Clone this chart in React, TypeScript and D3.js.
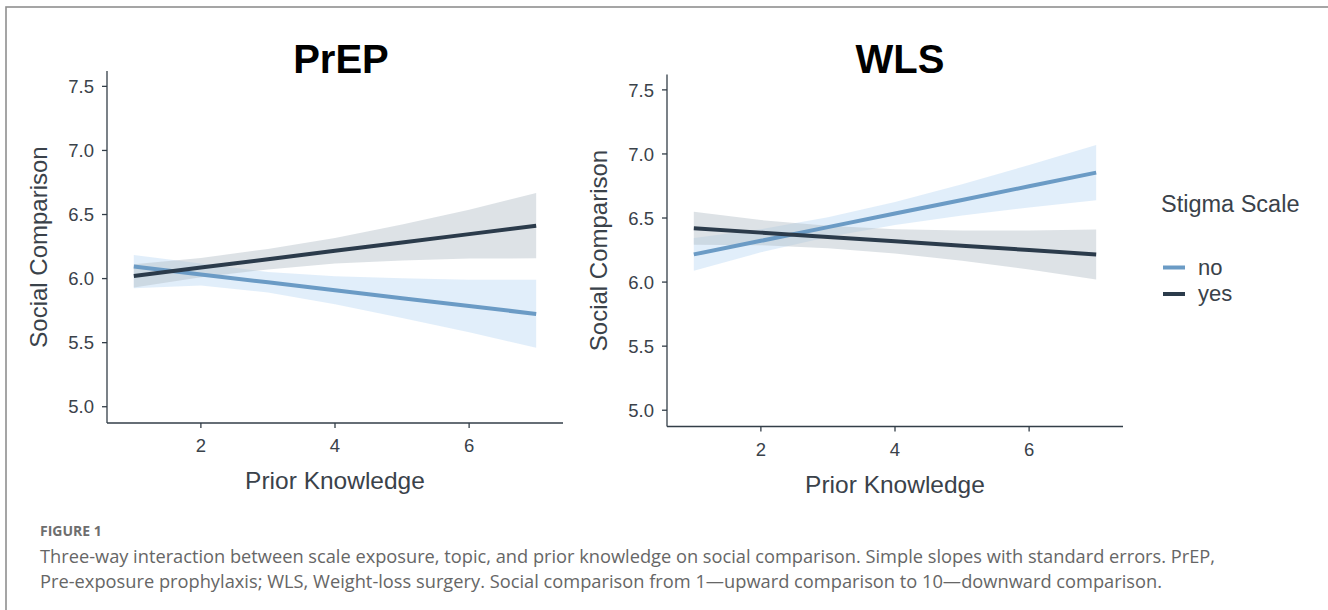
import * as d3 from "d3";

const knowledge = [1, 2, 3, 4, 5, 6, 7];

// PrEP panel
const prepNoFit = [6.094, 6.032, 5.971, 5.909, 5.847, 5.786, 5.724];
const prepNoHigh = [6.185, 6.117, 6.051, 6.019, 6.002, 5.991, 5.99];
const prepNoLow = [5.925, 5.947, 5.891, 5.799, 5.692, 5.581, 5.46];
const prepYesFit = [6.021, 6.086, 6.151, 6.217, 6.282, 6.347, 6.412];
const prepYesHigh = [6.111, 6.161, 6.231, 6.317, 6.422, 6.537, 6.668];
const prepYesLow = [5.931, 6.011, 6.071, 6.117, 6.142, 6.157, 6.158];

// WLS panel
const wlsNoFit = [6.216, 6.322, 6.429, 6.535, 6.641, 6.748, 6.854];
const wlsNoHigh = [6.344, 6.412, 6.506, 6.625, 6.763, 6.913, 7.069];
const wlsNoLow = [6.088, 6.232, 6.352, 6.445, 6.519, 6.583, 6.639];
const wlsYesFit = [6.42, 6.386, 6.352, 6.318, 6.284, 6.25, 6.216];
const wlsYesHigh = [6.548, 6.484, 6.44, 6.413, 6.402, 6.402, 6.411];
const wlsYesLow = [6.292, 6.288, 6.264, 6.223, 6.166, 6.098, 6.021];

const xTicks = [2, 4, 6];
const yTicks = [5.0, 5.5, 6.0, 6.5, 7.0, 7.5];
const groups = ["no", "yes"];

const lineColor: Record<string, string> = { no: "#6b9bc5", yes: "#2b3b4b" };
const ribbonColor: Record<string, string> = { no: "#bcd9f4", yes: "#b3bec7" };

const panels = [
  {
    title: "PrEP",
    left: 107,
    top: 71,
    titleX: 341,
    series: {
      no: { fit: prepNoFit, low: prepNoLow, high: prepNoHigh },
      yes: { fit: prepYesFit, low: prepYesLow, high: prepYesHigh },
    },
  },
  {
    title: "WLS",
    left: 667,
    top: 74.5,
    titleX: 900,
    series: {
      no: { fit: wlsNoFit, low: wlsNoLow, high: wlsNoHigh },
      yes: { fit: wlsYesFit, low: wlsYesLow, high: wlsYesHigh },
    },
  },
];

const width = 1328;
const height = 610;
const plotW = 456;
const plotH = 352;
const axisColor = "#333e48";
const textColor = "#3a424a";
const font = "'Liberation Sans', Arial, sans-serif";

const xScale = d3.scaleLinear().domain([0.6, 7.4]).range([0, plotW]);
const yScale = d3.scaleLinear().domain([4.873, 7.62]).range([plotH, 0]);

function Panel({ p }: { p: (typeof panels)[number] }) {
  const line = d3
    .line<number>()
    .x((_, i) => xScale(knowledge[i]))
    .y((d) => yScale(d));

  return (
    <g>
      <text
        x={p.titleX}
        y={73}
        textAnchor="middle"
        fontSize={40}
        fontWeight={700}
        fill="#000"
        fontFamily={font}
      >
        {p.title}
      </text>
      <g transform={`translate(${p.left},${p.top})`}>
        {groups.map((g) => {
          const s = (p.series as any)[g];
          const a = d3
            .area<number>()
            .x((_, i) => xScale(knowledge[i]))
            .y0((_, i) => yScale(s.low[i]))
            .y1((d) => yScale(d));
          return (
            <path key={g} d={a(s.high) ?? ""} fill={ribbonColor[g]} fillOpacity={0.45} />
          );
        })}
        {groups.map((g) => {
          const s = (p.series as any)[g];
          return (
            <path
              key={g}
              d={line(s.fit) ?? ""}
              fill="none"
              stroke={lineColor[g]}
              strokeWidth={4}
            />
          );
        })}

        {/* y axis */}
        <line x1={0} x2={0} y1={0} y2={plotH} stroke={axisColor} strokeWidth={1.3} />
        {yTicks.map((t) => (
          <g key={t} transform={`translate(0,${yScale(t)})`}>
            <line x1={-5} x2={0} stroke={axisColor} strokeWidth={1.3} />
            <text
              x={-13}
              dy="0.36em"
              textAnchor="end"
              fontSize={18.5}
              fill={textColor}
              fontFamily={font}
            >
              {t.toFixed(1)}
            </text>
          </g>
        ))}

        {/* x axis */}
        <line x1={0} x2={plotW} y1={plotH} y2={plotH} stroke={axisColor} strokeWidth={1.3} />
        {xTicks.map((t) => (
          <g key={t} transform={`translate(${xScale(t)},${plotH})`}>
            <line y1={0} y2={5} stroke={axisColor} strokeWidth={1.3} />
            <text y={29} textAnchor="middle" fontSize={18.5} fill={textColor} fontFamily={font}>
              {t}
            </text>
          </g>
        ))}

        <text
          x={plotW / 2}
          y={plotH + 66}
          textAnchor="middle"
          fontSize={24.5}
          fill={textColor}
          fontFamily={font}
        >
          Prior Knowledge
        </text>
        <text
          transform="rotate(-90)"
          x={-plotH / 2}
          y={-60}
          textAnchor="middle"
          fontSize={24}
          fill={textColor}
          fontFamily={font}
        >
          Social Comparison
        </text>
      </g>
    </g>
  );
}

export default function App() {
  return (
    <div style={{ position: "absolute", left: 0, top: 0 }}>
      <svg width={width} height={height} style={{ display: "block", background: "#fff" }}>
        <rect x={6} y={7} width={width + 20} height={height + 20} fill="none" stroke="#8f8f8f" strokeWidth={1.6} />
        {panels.map((p) => (
          <Panel key={p.title} p={p} />
        ))}

        {/* legend */}
        <text x={1161} y={212} fontSize={23.5} fill={textColor} fontFamily={font}>
          Stigma Scale
        </text>
        {groups.map((g, i) => (
          <g key={g} transform={`translate(1163,${267.5 + i * 26.5})`}>
            <line x1={0} x2={22} stroke={lineColor[g]} strokeWidth={4} />
            <text x={35} y={7} fontSize={22} fill={textColor} fontFamily={font}>
              {g}
            </text>
          </g>
        ))}

        {/* caption */}
        <g fontFamily="'Open Sans', sans-serif" fill="#666">
          <text x={40} y={536} fontSize={14} fontWeight={700} fill="#6e6e6e">
            FIGURE 1
          </text>
          <text x={40} y={563} fontSize={17.5} textLength={1175} lengthAdjust="spacingAndGlyphs">
            Three-way interaction between scale exposure, topic, and prior knowledge on social comparison. Simple slopes with standard errors. PrEP,
          </text>
          <text x={40} y={588} fontSize={17.5} textLength={1122} lengthAdjust="spacingAndGlyphs">
            Pre-exposure prophylaxis; WLS, Weight-loss surgery. Social comparison from 1—upward comparison to 10—downward comparison.
          </text>
        </g>
      </svg>
    </div>
  );
}
